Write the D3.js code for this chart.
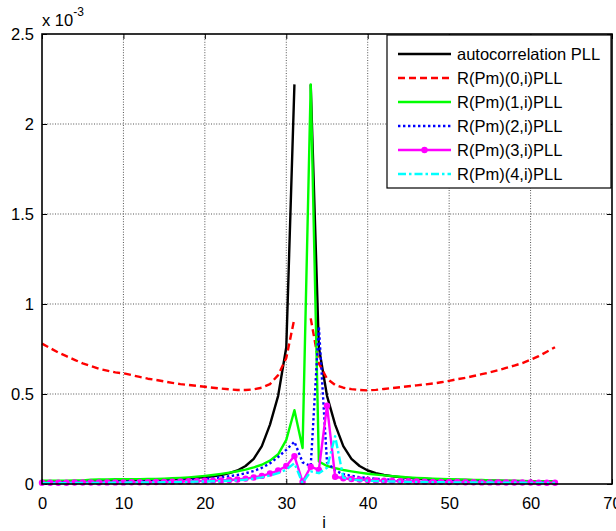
<!DOCTYPE html>
<html>
<head>
<meta charset="utf-8">
<script src="https://cdn.jsdelivr.net/npm/d3@7"></script>
<style>
  body { margin: 0; background: #fff; }
  text { font-family: "Liberation Sans", Arial, sans-serif; }
</style>
</head>
<body>
<div id="chart"></div>
<script>
// values are in units of 1e-3, index i = 0..63
let autocorr = [0.014,0.014,0.015,0.015,0.016,0.016,0.017,0.017,0.018,0.019,0.020,0.021,0.022,0.023,0.024,0.025,
    0.026,0.028,0.031,0.034,0.038,0.043,0.050,0.060,0.075,0.100,0.140,0.210,0.330,0.490,0.760,2.220,
    null,2.220,0.760,0.490,0.330,0.210,0.140,0.100,0.075,0.060,0.050,0.043,0.038,0.034,0.031,0.028,
    0.026,0.025,0.024,0.023,0.022,0.021,0.020,0.019,0.018,0.017,0.017,0.016,0.016,0.015,0.015,0.014];

let r0 = [0.780,0.755,0.730,0.710,0.690,0.670,0.655,0.640,0.630,0.620,0.615,0.605,0.595,0.585,0.578,0.570,
    0.562,0.555,0.550,0.545,0.540,0.535,0.530,0.526,0.522,0.522,0.526,0.535,0.555,0.605,0.700,0.920,
    null,0.920,0.670,0.585,0.550,0.535,0.527,0.522,0.520,0.523,0.528,0.533,0.538,0.543,0.548,0.553,
    0.558,0.565,0.573,0.582,0.590,0.600,0.610,0.620,0.632,0.645,0.658,0.672,0.690,0.710,0.735,0.760];

let r1 = [0.018,0.018,0.019,0.019,0.020,0.020,0.024,0.025,0.025,0.026,0.026,0.027,0.027,0.028,0.028,0.030,
    0.032,0.034,0.037,0.041,0.045,0.050,0.056,0.063,0.071,0.080,0.092,0.107,0.130,0.165,0.245,0.410,
    0.200,2.220,0.125,0.100,0.088,0.078,0.070,0.063,0.057,0.052,0.048,0.044,0.040,0.037,0.034,0.032,
    0.030,0.028,0.027,0.025,0.024,0.023,0.022,0.020,0.019,0.018,0.017,0.017,0.016,0.015,0.015,0.014];

let r2 = [0.010,0.010,0.010,0.011,0.011,0.011,0.012,0.012,0.012,0.013,0.013,0.014,0.014,0.015,0.016,0.017,
    0.018,0.020,0.022,0.025,0.028,0.032,0.037,0.043,0.050,0.060,0.072,0.090,0.115,0.150,0.190,0.235,
    0.120,0.100,0.875,0.120,0.075,0.055,0.045,0.038,0.033,0.029,0.026,0.023,0.021,0.019,0.018,0.017,
    0.016,0.015,0.014,0.014,0.013,0.013,0.012,0.012,0.012,0.011,0.011,0.011,0.010,0.010,0.010,0.010];

let r3 = [0.007,0.007,0.007,0.007,0.008,0.008,0.008,0.008,0.009,0.009,0.009,0.010,0.010,0.010,0.011,0.012,
    0.013,0.014,0.015,0.016,0.018,0.019,0.020,0.022,0.025,0.030,0.036,0.045,0.058,0.075,0.100,0.155,
    0.012,0.096,0.078,0.435,0.040,0.032,0.028,0.025,0.022,0.020,0.018,0.017,0.016,0.015,0.014,0.013,
    0.012,0.012,0.011,0.011,0.010,0.010,0.009,0.009,0.009,0.008,0.008,0.008,0.008,0.007,0.007,0.007];

let r4 = [0.005,0.005,0.005,0.005,0.006,0.006,0.006,0.006,0.007,0.007,0.007,0.008,0.008,0.008,0.009,0.010,
    0.010,0.011,0.012,0.013,0.014,0.015,0.016,0.018,0.020,0.024,0.030,0.037,0.047,0.060,0.080,0.115,
    0.005,0.070,0.060,0.090,0.265,0.035,0.025,0.020,0.018,0.016,0.015,0.014,0.013,0.012,0.011,0.011,
    0.010,0.010,0.009,0.009,0.009,0.008,0.008,0.008,0.007,0.007,0.007,0.007,0.006,0.006,0.006,0.006];

let seriesNames = ["autocorrelation PLL", "R(Pm)(0,i)PLL", "R(Pm)(1,i)PLL",
    "R(Pm)(2,i)PLL", "R(Pm)(3,i)PLL", "R(Pm)(4,i)PLL"];
let xTicks = [0, 10, 20, 30, 40, 50, 60, 70];
let yTicks = [0, 0.5, 1, 1.5, 2, 2.5];

let styles = [
    { color: "#000000", dash: null, marker: false },
    { color: "#ff0000", dash: "7,4", marker: false },
    { color: "#00ff00", dash: null, marker: false },
    { color: "#0000ff", dash: "2.4,2.6", marker: false },
    { color: "#ff00ff", dash: null, marker: true },
    { color: "#00ffff", dash: "8,3,2.5,3", marker: false }
];

function gen_chart() {
    let width = 616, height = 531;
    let left = 42, right = 612, top = 34, bottom = 484;
    let fs = 16.5;

    let svg = d3.select("#chart").append("svg")
        .attr("width", width)
        .attr("height", height);

    let x = d3.scaleLinear().domain([0, 70]).range([left, right]);
    let y = d3.scaleLinear().domain([0, 2.5]).range([bottom, top]);

    // grid
    let grid = svg.append("g");
    grid.selectAll(".gx").data(xTicks.slice(1, -1)).enter().append("line")
        .attr("x1", d => x(d)).attr("x2", d => x(d))
        .attr("y1", top).attr("y2", bottom)
        .attr("stroke", "#555").attr("stroke-width", 1).attr("stroke-dasharray", "1,1.6");
    grid.selectAll(".gy").data(yTicks.slice(1, -1)).enter().append("line")
        .attr("y1", d => y(d)).attr("y2", d => y(d))
        .attr("x1", left).attr("x2", right)
        .attr("stroke", "#555").attr("stroke-width", 1).attr("stroke-dasharray", "1,1.6");

    // axes with inward ticks
    svg.append("g").attr("transform", `translate(0,${bottom})`)
        .call(d3.axisBottom(x).tickValues(xTicks).tickSize(-5).tickPadding(13).tickFormat(d3.format("d")))
        .call(g => g.select(".domain").remove());
    svg.append("g").attr("transform", `translate(0,${top})`)
        .call(d3.axisTop(x).tickValues(xTicks).tickSize(-5).tickFormat(""))
        .call(g => g.select(".domain").remove());
    svg.append("g").attr("transform", `translate(${left},0)`)
        .call(d3.axisLeft(y).tickValues(yTicks).tickSize(-5).tickPadding(8).tickFormat(d => d))
        .call(g => g.select(".domain").remove());
    svg.append("g").attr("transform", `translate(${right},0)`)
        .call(d3.axisRight(y).tickValues(yTicks).tickSize(-5).tickFormat(""))
        .call(g => g.select(".domain").remove());

    svg.selectAll(".tick text").attr("font-size", fs).attr("fill", "#000")
        .attr("font-family", "'Liberation Sans', Arial, sans-serif");
    svg.selectAll(".tick line").attr("stroke", "#000");

    // data lines
    let all = [autocorr, r0, r1, r2, r3, r4];
    let line = d3.line()
        .defined(d => d != null)
        .x((d, i) => x(i))
        .y(d => y(d));

    let plot = svg.append("g");
    all.forEach((s, k) => {
        let st = styles[k];
        plot.append("path")
            .datum(s)
            .attr("d", line)
            .attr("fill", "none")
            .attr("stroke", st.color)
            .attr("stroke-width", 2.4)
            .attr("stroke-dasharray", st.dash)
            .attr("stroke-linejoin", "round");
        if (st.marker) {
            plot.selectAll(".m" + k)
                .data(s.map((v, i) => [i, v]).filter(d => d[1] != null))
                .enter().append("circle")
                .attr("cx", d => x(d[0]))
                .attr("cy", d => y(d[1]))
                .attr("r", 3.2)
                .attr("fill", st.color);
        }
    });

    // axes box
    svg.append("rect")
        .attr("x", left).attr("y", top)
        .attr("width", right - left).attr("height", bottom - top)
        .attr("fill", "none").attr("stroke", "#000").attr("stroke-width", 1.6);

    // exponent label
    let ex = svg.append("text").attr("x", 42).attr("y", 26).attr("font-size", fs);
    ex.append("tspan").text("x 10");
    ex.append("tspan").attr("dy", -10).attr("font-size", 12).text("-3");

    // x label
    svg.append("text").attr("x", 324).attr("y", 528)
        .attr("text-anchor", "middle").attr("font-size", fs).text("i");

    // legend
    let lg = svg.append("g");
    lg.append("rect")
        .attr("x", 387).attr("y", 35).attr("width", 224).attr("height", 153)
        .attr("fill", "#fff").attr("stroke", "#000").attr("stroke-width", 1.2);
    seriesNames.forEach((name, k) => {
        let st = styles[k];
        let cy = 54 + k * 24;
        lg.append("line")
            .attr("x1", 398).attr("x2", 451).attr("y1", cy).attr("y2", cy)
            .attr("stroke", st.color).attr("stroke-width", 2.4)
            .attr("stroke-dasharray", st.dash);
        if (st.marker) {
            lg.append("circle").attr("cx", 424.5).attr("cy", cy).attr("r", 3.2).attr("fill", st.color);
        }
        lg.append("text").attr("x", 457).attr("y", cy + 6)
            .attr("font-size", fs).text(name);
    });
}

gen_chart();
</script>
</body>
</html>
